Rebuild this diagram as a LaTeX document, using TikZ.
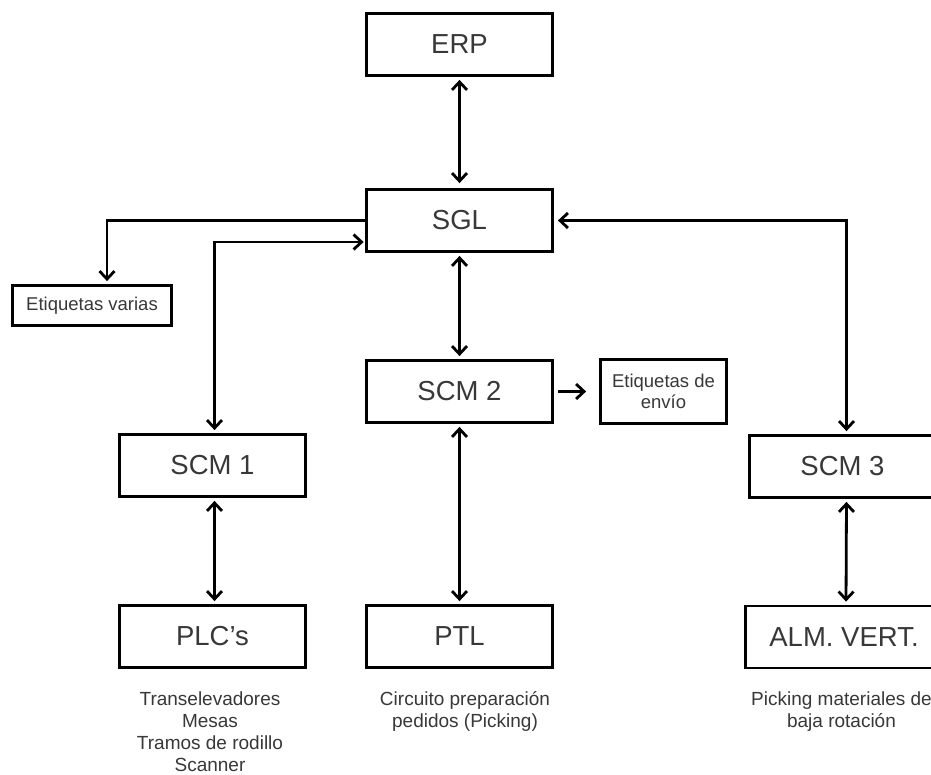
\documentclass[tikz,border=0pt]{standalone}
\usepackage{fontspec}
\setmainfont{Liberation Sans}
\usetikzlibrary{arrows.meta}

\definecolor{ink}{gray}{0.22}

\tikzset{
  box/.style={draw, line width=2.8pt, minimum width=186pt, minimum height=62pt,
    inner sep=0pt, text=ink, font=\fontsize{27.5}{30}\selectfont},
  smallbox/.style={draw, line width=2.8pt, inner sep=0pt, text=ink, align=center,
    font=\fontsize{18.5}{21}\selectfont},
  caption/.style={inner sep=0pt, text=ink, align=center, anchor=base,
    font=\fontsize{19}{22.3}\selectfont},
  tip/.tip={Straight Barb[length=8pt,width=15pt]},
  link/.style={line width=2.8pt, shorten <=3pt, shorten >=3pt},
  both/.style={link, tip-tip},
  one/.style={link, -tip}
}

\begin{document}
\begin{tikzpicture}[x=1pt, y=-1pt]
  \useasboundingbox (0,0) rectangle (931,775);
  \clip (0,0) rectangle (931,775);
  \fill[white] (0,0) rectangle (931,775);

  % system boxes
  \node[box] (erp)  at (459.5, 44.5)  {ERP};
  \node[box] (sgl)  at (459.5, 220.5) {SGL};
  \node[box] (scm2) at (459.5, 391.5) {SCM 2};
  \node[box] (scm1) at (212.5, 465.5) {SCM 1};
  \node[box] (scm3) at (842.5, 466.5) {SCM 3};
  \node[box] (plc)  at (212.5, 636.5) {PLC’s};
  \node[box] (ptl)  at (459.5, 636.5) {PTL};
  \node[box, minimum width=197pt] (alm) at (844, 637) {ALM. VERT.};

  % label printers
  \node[smallbox, minimum width=159pt, minimum height=40pt] (ev)  at (92, 305.5) {Etiquetas varias};
  \node[smallbox, minimum width=126pt, minimum height=64pt] (ede) at (663.5, 391.5) {Etiquetas de\\envío};

  % descriptions under the bottom row (base anchor = last line)
  \node[caption] (cplc) at (210, 771.9) {Transelevadores\\Mesas\\Tramos de rodillo\\Scanner};
  \node[caption] (cptl) at (465, 727.3) {Circuito preparación\\pedidos (Picking)};
  \node[caption] (calm) at (841.5, 727.3) {Picking materiales de\\baja rotación};

  % connectors
  \draw[both, shorten >=5pt] (erp.south) -- (sgl.north);
  \draw[one, shorten <=0pt] (sgl.west) -| ([xshift=15pt]ev.north);
  \draw[both, shorten <=1.5pt] ([yshift=-21.5pt]sgl.west) -| ([xshift=2pt]scm1.north);
  \draw[both, shorten <=4pt] (sgl.east) -| ([xshift=4pt]scm3.north);
  \draw[both] (sgl.south) -- (scm2.north);
  \draw[one, shorten <=4.5pt, shorten >=13pt] (scm2.east) -- (ede.west);
  \draw[both] (scm2.south) -- (ptl.north);
  \draw[both] ([xshift=2pt]scm1.south) -- ([xshift=2pt]plc.north);
  \draw[both] ([xshift=4pt]scm3.south) -- ([xshift=2pt]alm.north);
\end{tikzpicture}
\end{document}
